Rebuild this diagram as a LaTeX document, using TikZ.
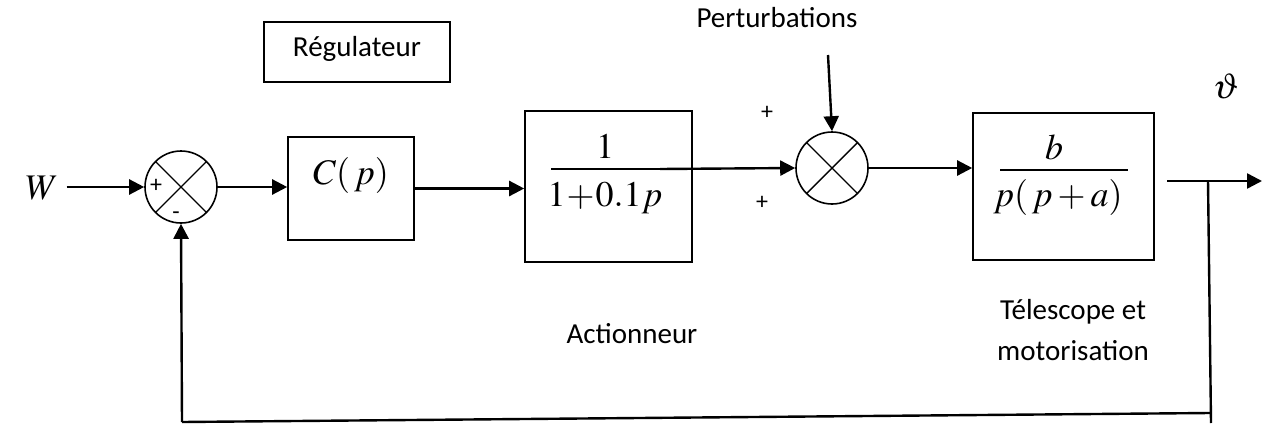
\documentclass[tikz,border=0pt]{standalone}
\usepackage{mathptmx}
\usepackage[no-math]{fontspec}
\setmainfont{Carlito}
\usetikzlibrary{arrows.meta}
\tikzset{
  blk/.style={draw, line width=1.6pt, inner sep=0pt},
  sumnode/.style={draw, circle, line width=1.6pt, minimum size=72pt, inner sep=0pt,
    path picture={\draw[line width=1.4pt] (path picture bounding box.south west)++(10.5pt,10.5pt) -- ++(51pt,51pt);
                  \draw[line width=1.4pt] (path picture bounding box.north west)++(10.5pt,-10.5pt) -- ++(51pt,-51pt);}},
  sig/.style={line width=2.4pt, -{Triangle[length=15pt,width=15pt]}},
  wire/.style={line width=2.4pt},
  lbl/.style={font=\fontsize{29}{35}\selectfont, inner sep=0pt},
  sgn/.style={font=\fontsize{24}{28}\selectfont, inner sep=0pt},
  mth/.style={font=\fontsize{36}{40}\selectfont, inner sep=0pt},
}
\begin{document}
\begin{tikzpicture}[x=1pt,y=-1pt]
\useasboundingbox (0,0) rectangle (1263,423);
% input
\node[mth] (W) at (42,188) {$W$};
\node[sumnode] (s1) at (181,187) {};
\node[sgn] (s1p) at (156,186) {+};
\node[sgn] (s1m) at (176,216) {-};
% regulator
\node[blk, minimum width=186pt, minimum height=60pt] (reg) at (357,52) {};
\node[lbl] (regt) at (357,49) {Régulateur};
\node[blk, minimum width=126pt, minimum height=103pt] (cbox) at (351,188.5) {};
\node[mth] (ct) at (351,175) {$C(\,p)$};
% actuator
\node[blk, minimum width=167pt, minimum height=151pt] (abox) at (608.5,186.5) {};
\node[mth] (anum) at (605,146) {$1$};
\node[mth] (aden) at (605,198) {$1\!+\!0.1p$};
\coordinate (abarl) at (551,169);
\coordinate (aout) at (660,169);
\draw[line width=1.4pt] (abarl) -- (aout);
\node[lbl] (act) at (632,334) {Actionneur};
% second summing junction
\node[sumnode] (s2) at (832,168) {};
\node[lbl] (pert) at (777,18) {Perturbations};
\coordinate (pin) at (828,55);
\node[sgn] (s2a) at (767,113) {+};
\node[sgn] (s2b) at (762,203) {+};
% plant
\node[blk, minimum width=181pt, minimum height=147pt] (pbox) at (1063.5,186.5) {};
\node[mth] (pnum) at (1054,147) {$b$};
\node[mth] (pden) at (1058,197) {$p(\,p+a)$};
\coordinate (pbarl) at (1000,170);
\coordinate (pbarr) at (1128,170);
\draw[line width=1.4pt] (pbarl) -- (pbarr);
\node[lbl, align=center] (tel) at (1073,330) {Télescope et\\[6pt]motorisation};
% output
\node[mth] (theta) at (1226,86) {$\vartheta$};
\coordinate (ostart) at (1167,181);
\coordinate (br) at (1208,181);
\coordinate (oend) at (1262,181);
\coordinate (c0) at (1211,423);
\coordinate (c1) at (1210,413);
\coordinate (c2) at (182,422);
% connectors
\draw[sig] (W.east) ++(8pt,1pt) -- (s1.west);
\draw[sig] (s1.east) -- (s1.east -| cbox.west);
\draw[sig] (cbox.east) -- (cbox.east -| abox.west);
\draw[sig] (aout) -- (s2.west);
\draw[sig] (pin) -- (s2.north);
\draw[sig] (s2.east) -- (s2.east -| pbox.west);
\draw[sig] (ostart) -- (oend);
\draw[wire] (br) -- (c0);
\draw[wire] (c1) -- (c2);
\draw[sig] (c2) -- (s1.south);
\end{tikzpicture}
\end{document}
